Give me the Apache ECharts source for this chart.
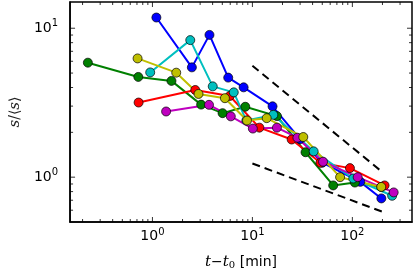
<!DOCTYPE html>
<html><head><meta charset="utf-8">
<script src="https://cdn.jsdelivr.net/npm/echarts@6/dist/echarts.min.js"></script>
<style>html,body{margin:0;padding:0;background:#fff}#c{width:415px;height:277px}</style>
</head><body><div id="c"></div>
<script>
// ---- data (t - t0 in minutes, s/<s>) ----
const blueX = [1.095, 2.48, 3.72, 5.73, 8.17, 15.9, 30, 50, 120, 195];
const blueY = [11.8, 5.46, 9.02, 4.66, 4.01, 2.99, 1.8, 1.25, 0.93, 0.72];
const greenX = [0.226, 0.722, 1.55, 3.07, 5.03, 8.49, 17.6, 34, 64.3, 106, 195];
const greenY = [5.87, 4.71, 4.43, 3.07, 2.69, 2.97, 2.57, 1.47, 0.88, 0.92, 0.86];
const redX = [0.727, 2.68, 5.94, 11.75, 24.7, 47.9, 94.6, 210];
const redY = [3.17, 3.85, 3.51, 2.15, 1.79, 1.25, 1.15, 0.88];
const cyanX = [0.95, 2.39, 4.01, 6.51, 8.7, 16.2, 41, 102, 250];
const cyanY = [5.05, 8.32, 4.07, 3.71, 2.4, 2.62, 1.49, 0.98, 0.75];
const magentaX = [1.37, 3.68, 6.08, 10.1, 17.6, 28.2, 50.9, 113, 259];
const magentaY = [2.76, 3.06, 2.56, 2.12, 2.15, 1.84, 1.27, 1.0, 0.79];
const yellowX = [0.71, 1.73, 2.89, 5.31, 8.83, 13.9, 32.3, 75.4, 194.5];
const yellowY = [6.27, 5.03, 3.62, 3.39, 2.40, 2.49, 1.86, 1.0, 0.86];
const guideUpperX = [10, 200];
const guideUpperY = [5.6, 1.08];
const guideLowerX = [10, 200];
const guideLowerY = [1.235, 0.586];
const xMajorTicks = [1, 10, 100];
const yMajorTicks = [1, 10];
const xMinorTicks = [0.2, 0.3, 0.4, 0.5, 0.6, 0.7, 0.8, 0.9, 2, 3, 4, 5, 6, 7, 8, 9, 20, 30, 40, 50, 60, 70, 80, 90, 200, 300];
const yMinorTicks = [0.6, 0.7, 0.8, 0.9, 2, 3, 4, 5, 6, 7, 8, 9];

const X_MIN = 0.15, X_MAX = 395, Y_MIN = 0.5, Y_MAX = 15;

const zip = (xs, ys) => xs.map((x, i) => [x, ys[i]]);
const lg = Math.log10;

const FONT = 'DejaVu Sans';
const richTick = {
  b: { fontSize: 14, fontFamily: FONT, color: '#000' },
  s: { fontSize: 10, fontFamily: FONT, color: '#000', verticalAlign: 'bottom', padding: [0, 0, 9, 0] }
};
const fmt = v => {
  const e = lg(v);
  return Math.abs(e - Math.round(e)) < 1e-6 ? '{b|10}{s|' + Math.round(e) + '}' : '';
};

// tick marks drawn inside the frame through the axes' own scales
function tickSeries(points, size, offset) {
  return {
    type: 'scatter', data: points, xAxisIndex: 0, yAxisIndex: 0, symbol: 'rect',
    symbolSize: size, symbolOffset: offset, clip: false, silent: true,
    itemStyle: { color: '#000', borderWidth: 0 }, z: 5, animation: false
  };
}

const mk = (name, color, xs, ys) => ({
  name, type: 'line', data: zip(xs, ys), xAxisIndex: 0, yAxisIndex: 0,
  symbol: 'circle', symbolSize: 9,
  lineStyle: { color, width: 2 },
  itemStyle: { color, borderColor: '#000', borderWidth: 0.7 },
  z: 3, animation: false
});
const guide = (xs, ys) => ({
  type: 'line', data: zip(xs, ys), xAxisIndex: 0, yAxisIndex: 0, symbol: 'none',
  lineStyle: { color: '#000', width: 2, type: [8, 5] }, z: 2, animation: false
});

const MAJ = 5, MIN = 3;
const chart = echarts.init(document.getElementById('c'), null, { renderer: 'canvas' });
chart.setOption({
  animation: false,
  grid: { left: 67, right: 3, top: 2, bottom: 55, containLabel: false,
    show: true, borderColor: '#000', borderWidth: 1.5, backgroundColor: 'transparent' },
  xAxis: {
    type: 'log', min: X_MIN, max: X_MAX, position: 'bottom',
    name: '{i|t}{n|−}{i|t}{sub|0}{n| [min]}', nameLocation: 'middle', nameGap: 33,
    nameTextStyle: { rich: {
      i: { fontSize: 15, fontFamily: 'DejaVu Serif', fontStyle: 'italic', color: '#000' },
      n: { fontSize: 14, fontFamily: FONT, color: '#000' },
      sub: { fontSize: 10, fontFamily: 'DejaVu Serif', color: '#000', verticalAlign: 'bottom' }
    } },
    axisLine: { show: true, onZero: false, lineStyle: { color: '#000', width: 1.5 } },
    axisTick: { show: false },
    axisLabel: { show: true, margin: 5, formatter: fmt, rich: richTick, showMinLabel: false, showMaxLabel: false },
    splitLine: { show: false }
  },
  yAxis: {
    type: 'log', min: Y_MIN, max: Y_MAX, position: 'left',
    name: '{i|s}{n|/⟨}{i|s}{n|⟩}', nameLocation: 'middle', nameGap: 44, nameRotate: 90,
    nameTextStyle: { rich: {
      i: { fontSize: 15, fontFamily: 'DejaVu Serif', fontStyle: 'italic', color: '#222' },
      n: { fontSize: 14, fontFamily: 'DejaVu Serif', color: '#222' }
    } },
    axisLine: { show: true, onZero: false, lineStyle: { color: '#000', width: 1.5 } },
    axisTick: { show: false },
    axisLabel: { show: true, margin: 12, formatter: fmt, rich: richTick, showMinLabel: false, showMaxLabel: false },
    splitLine: { show: false }
  },
  series: [
    guide(guideUpperX, guideUpperY),
    guide(guideLowerX, guideLowerY),
    mk('b', '#0000ff', blueX, blueY),
    mk('g', '#008000', greenX, greenY),
    mk('r', '#ff0000', redX, redY),
    mk('c', '#00bfbf', cyanX, cyanY),
    mk('m', '#bf00bf', magentaX, magentaY),
    mk('y', '#bfbf00', yellowX, yellowY),
    tickSeries(xMajorTicks.map(v => [v, Y_MIN]), [1, MAJ], [0, -MAJ / 2]),
    tickSeries(xMinorTicks.map(v => [v, Y_MIN]), [1, MIN], [0, -MIN / 2]),
    tickSeries(xMajorTicks.map(v => [v, Y_MAX]), [1, MAJ], [0, MAJ / 2]),
    tickSeries(xMinorTicks.map(v => [v, Y_MAX]), [1, MIN], [0, MIN / 2]),
    tickSeries(yMajorTicks.map(v => [X_MIN, v]), [MAJ, 1], [MAJ / 2, 0]),
    tickSeries(yMinorTicks.map(v => [X_MIN, v]), [MIN, 1], [MIN / 2, 0]),
    tickSeries(yMajorTicks.map(v => [X_MAX, v]), [MAJ, 1], [-MAJ / 2, 0]),
    tickSeries(yMinorTicks.map(v => [X_MAX, v]), [MIN, 1], [-MIN / 2, 0])
  ]
});
</script></body></html>
